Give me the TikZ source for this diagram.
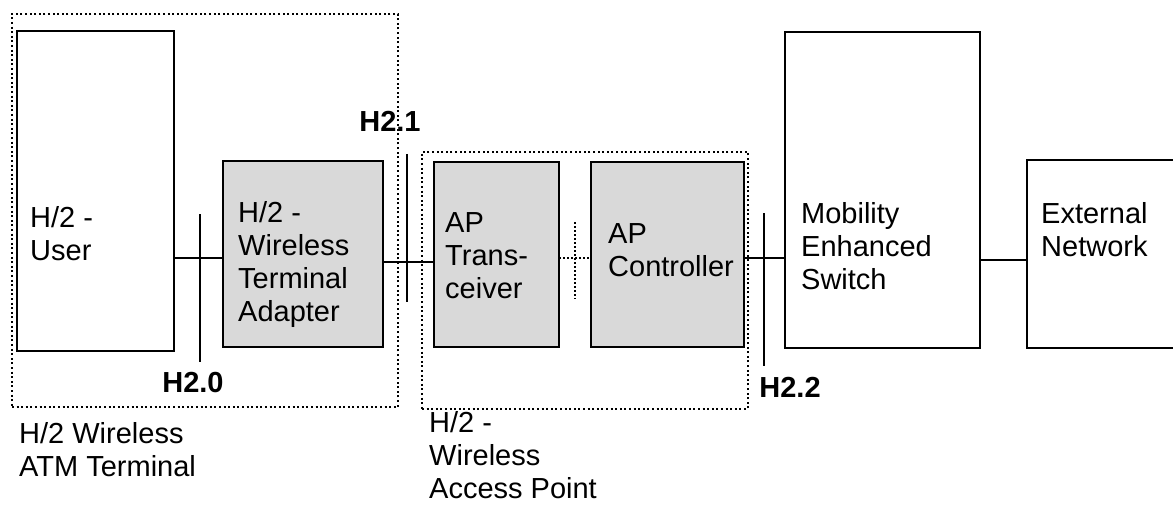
\documentclass[tikz,border=0pt]{standalone}
\usepackage{fontspec}
\setmainfont{Liberation Sans}
\usetikzlibrary{positioning}

\begin{document}
\begin{tikzpicture}[x=1pt,y=-1pt]

\tikzstyle{unit} = [rectangle, draw, line width=2pt, inner sep=0pt, outer sep=0pt, anchor=north west]
\tikzstyle{greyunit} = [unit, fill=black!15, line width=2.5pt]
\tikzstyle{group} = [rectangle, draw, line width=1.6pt, dash pattern=on 2pt off 2.6pt, inner sep=0pt, outer sep=0pt, anchor=north west]
\tikzstyle{txt} = [anchor=base west, align=left, inner sep=0pt, font=\fontsize{29}{33}\selectfont]
\tikzstyle{iface} = [anchor=base, inner sep=0pt, font=\fontsize{29}{33}\selectfont\bfseries]
\tikzstyle{link} = [line width=1.3pt]
\tikzstyle{dotlink} = [line width=1.3pt, dash pattern=on 1.5pt off 2.5pt]

\useasboundingbox (0,0) rectangle (1173,508);

% dotted groups
\node (term) [group, minimum width=386pt, minimum height=393pt] at (12,14) {};
\node (ap) [group, minimum width=326pt, minimum height=257pt] at (422,152) {};

% units
\node (user) [unit, minimum width=157pt, minimum height=320pt] at (17,31) {};
\node (wta) [greyunit, minimum width=160pt, minimum height=186pt] at (223,161) {};
\node (trx) [greyunit, minimum width=125pt, minimum height=185pt] at (434,162) {};
\node (ctrl) [greyunit, minimum width=153pt, minimum height=185pt] at (591,162) {};
\node (mes) [unit, minimum width=195pt, minimum height=316pt] at (785,32) {};
\node (ext) [unit, minimum width=170pt, minimum height=188pt] at (1027,160) {};

% texts (anchored at the baseline of the last line)
\node (user-t) [txt] at (30,260) {H/2 -\\User};
\node (wta-t) [txt] at (238,321) {H/2 -\\Wireless\\Terminal\\Adapter};
\node (trx-t) [txt] at (445,298) {AP\\Trans-\\ceiver};
\node (ctrl-t) [txt] at (608,276) {AP\\Controller};
\node (mes-t) [txt] at (801,289) {Mobility\\Enhanced\\Switch};
\node (ext-t) [txt] at (1041,256) {External\\Network};

\node (term-t) [txt] at (19,476) {H/2 Wireless\\ATM Terminal};
\node (ap-t) [txt] at (429,498) {H/2 -\\Wireless\\Access Point};

% interfaces
\coordinate (h20) at (200,258);
\coordinate (h21) at (407,262);
\coordinate (h22) at (764,258);
\coordinate (apbus) at (575,258);
\coordinate (xl) at (1003,260);

\draw [link] (user.east |- h20) -- (wta.west |- h20);
\draw [link] (wta.east |- h21) -- (trx.west |- h21);
\draw [dotlink] (trx.east |- apbus) -- (ctrl.west |- apbus);
\draw [link] (ctrl.east |- h22) -- (mes.west |- h22);
\draw [link] (mes.east |- xl) -- (ext.west |- xl);

\draw [link] (200,214) -- (200,362);
\draw [link] (407,154) -- (407,302);
\draw [link] (764,213) -- (764,366);
\draw [dotlink] (575,222) -- (575,299);

\node (h20-t) [iface] at (193,392) {H2.0};
\node (h21-t) [iface] at (390,132) {H2.1};
\node (h22-t) [iface] at (790,397) {H2.2};

\end{tikzpicture}
\end{document}
